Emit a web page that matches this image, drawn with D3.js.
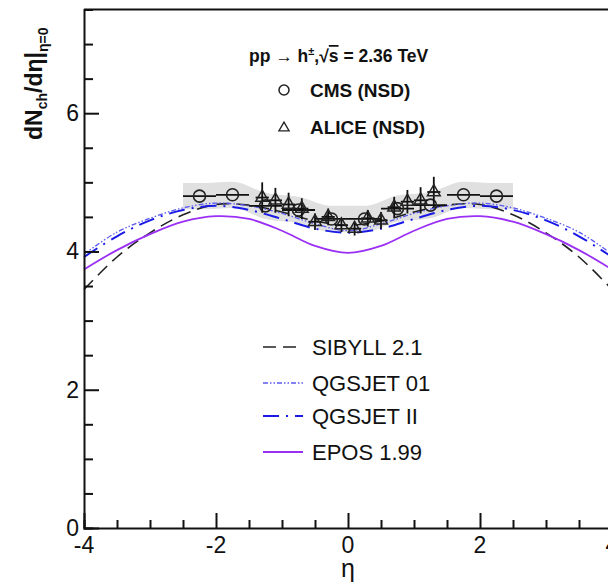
<!DOCTYPE html>
<html>
<head>
<meta charset="utf-8">
<script src="https://cdn.jsdelivr.net/npm/d3@7"></script>
<style>
  body { margin: 0; background: #fff; }
  text { font-family: "Liberation Sans Narrow", "Liberation Sans", Arial, sans-serif; }
</style>
</head>
<body>
<div id="chart"></div>
<script>
// chart size
const width = 608;
const height = 585;

// model predictions on an eta grid
const modelEta = [-4, -3.5, -3, -2.5, -2, -1.5, -1, -0.5, 0, 0.5, 1, 1.5, 2, 2.5, 3, 3.5, 4];
const sibyll = [3.45, 3.92, 4.27, 4.53, 4.68, 4.67, 4.57, 4.44, 4.38, 4.44, 4.57, 4.67, 4.68, 4.53, 4.27, 3.92, 3.45];
const qgsjet01 = [3.96, 4.28, 4.48, 4.63, 4.70, 4.66, 4.55, 4.40, 4.30, 4.40, 4.55, 4.66, 4.70, 4.63, 4.48, 4.28, 3.96];
const qgsjet2 = [3.92, 4.22, 4.45, 4.60, 4.66, 4.60, 4.47, 4.33, 4.27, 4.33, 4.47, 4.60, 4.66, 4.60, 4.45, 4.22, 3.92];
const epos = [3.74, 4.02, 4.25, 4.43, 4.51, 4.47, 4.30, 4.08, 3.98, 4.08, 4.30, 4.47, 4.51, 4.43, 4.25, 4.02, 3.74];

// CMS data (bins of 0.5)
const cmsEta = [-2.25, -1.75, -1.25, -0.75, -0.25, 0.25, 0.75, 1.25, 1.75, 2.25];
const cmsVal = [4.80, 4.82, 4.66, 4.60, 4.47, 4.47, 4.62, 4.67, 4.82, 4.80];
const cmsSys = 0.19;
const cmsHalfWidth = 0.25;

// ALICE data (bins of 0.2)
const aliceEta = [-1.3, -1.1, -0.9, -0.7, -0.5, -0.3, -0.1, 0.1, 0.3, 0.5, 0.7, 0.9, 1.1, 1.3];
const aliceVal = [4.78, 4.74, 4.68, 4.62, 4.43, 4.50, 4.38, 4.33, 4.48, 4.45, 4.64, 4.72, 4.74, 4.86];
const aliceErr = [0.22, 0.18, 0.17, 0.15, 0.12, 0.12, 0.10, 0.10, 0.12, 0.12, 0.15, 0.17, 0.19, 0.22];
const aliceHalfWidth = 0.1;

// tick values
const xMajor = [-4, -2, 0, 2, 4];
const yMajor = [0, 2, 4, 6];

const legendModels = ["SIBYLL 2.1", "QGSJET 01", "QGSJET II", "EPOS 1.99"];

const svg = d3.select("#chart").append("svg")
  .attr("width", width)
  .attr("height", height);

const x = d3.scaleLinear().domain([-4, 4]).range([84, 612]);
const y = d3.scaleLinear().domain([0, 7.5]).range([528, 9.5]);

// systematic band for CMS
const bandPts = [{ e: -2.5, v: cmsVal[0] }]
  .concat(cmsEta.map((e, i) => ({ e: e, v: cmsVal[i] })))
  .concat([{ e: 2.5, v: cmsVal[cmsVal.length - 1] }]);
svg.append("path")
  .datum(bandPts)
  .attr("fill", "#e0e0e0")
  .attr("d", d3.area()
    .x(d => x(d.e))
    .y0(d => y(d.v - cmsSys))
    .y1(d => y(d.v + cmsSys))
    .curve(d3.curveMonotoneX));

// model curves
const models = [
  { name: legendModels[0], vals: sibyll, color: "#222", width: 1.6, dash: "13,7" },
  { name: legendModels[1], vals: qgsjet01, color: "#5a5af0", width: 1.3, dash: "5,2,1.5,2,1.5,2" },
  { name: legendModels[2], vals: qgsjet2, color: "#1a1ae6", width: 2, dash: "16,7,2,7" },
  { name: legendModels[3], vals: epos, color: "#9b30f5", width: 1.8, dash: null }
];

const line = d3.line()
  .x(d => x(d[0]))
  .y(d => y(d[1]))
  .curve(d3.curveCatmullRom.alpha(0.5));

models.forEach(function(m) {
  svg.append("path")
    .datum(modelEta.map((e, i) => [e, m.vals[i]]))
    .attr("fill", "none")
    .attr("stroke", m.color)
    .attr("stroke-width", m.width)
    .attr("stroke-dasharray", m.dash)
    .attr("d", line);
});

// CMS points
const cms = svg.append("g");
cmsEta.forEach(function(e, i) {
  cms.append("line")
    .attr("x1", x(e - cmsHalfWidth)).attr("x2", x(e + cmsHalfWidth))
    .attr("y1", y(cmsVal[i])).attr("y2", y(cmsVal[i]))
    .attr("stroke", "#111").attr("stroke-width", 1.8);
  cms.append("circle")
    .attr("cx", x(e)).attr("cy", y(cmsVal[i])).attr("r", 6)
    .attr("fill", "none").attr("stroke", "#222").attr("stroke-width", 1.6);
});

// ALICE points
const tri = d3.symbol().type(d3.symbolTriangle).size(70);
const alice = svg.append("g");
aliceEta.forEach(function(e, i) {
  alice.append("line")
    .attr("x1", x(e - aliceHalfWidth)).attr("x2", x(e + aliceHalfWidth))
    .attr("y1", y(aliceVal[i])).attr("y2", y(aliceVal[i]))
    .attr("stroke", "#111").attr("stroke-width", 1.8);
  alice.append("line")
    .attr("x1", x(e)).attr("x2", x(e))
    .attr("y1", y(aliceVal[i] - aliceErr[i])).attr("y2", y(aliceVal[i] + aliceErr[i]))
    .attr("stroke", "#111").attr("stroke-width", 1.8);
  alice.append("path")
    .attr("d", tri)
    .attr("transform", `translate(${x(e)},${y(aliceVal[i])})`)
    .attr("fill", "none").attr("stroke", "#222").attr("stroke-width", 1.5);
});

// axes (ticks pointing inside)
const xAxis = d3.axisTop(x).tickValues(d3.range(-4, 4.01, 0.5)).tickFormat("").tickSizeOuter(0)
  .tickSize(8);
const gx = svg.append("g").attr("transform", "translate(0,528)").call(xAxis);
gx.selectAll(".tick line").attr("y2", d => xMajor.includes(d) ? -15 : -8);

const yAxis = d3.axisRight(y).tickValues(d3.range(0, 7.51, 0.5)).tickFormat("").tickSizeOuter(0)
  .tickSize(9);
const gy = svg.append("g").attr("transform", "translate(84,0)").call(yAxis);
gy.selectAll(".tick line").attr("x2", d => yMajor.includes(d) ? 15 : 9);

svg.selectAll(".domain").attr("stroke", "#111").attr("stroke-width", 2);
svg.selectAll(".tick line").attr("stroke", "#111").attr("stroke-width", 2);

// top frame
svg.append("line").attr("x1", x(-4)).attr("x2", x(4)).attr("y1", y(7.5)).attr("y2", y(7.5))
  .attr("stroke", "#111").attr("stroke-width", 2);

// tick labels
svg.selectAll(".xlab").data(xMajor).enter().append("text")
  .attr("x", d => x(d)).attr("y", 553)
  .attr("text-anchor", "middle").attr("font-size", 23).attr("fill", "#111")
  .text(d => d);
svg.selectAll(".ylab").data(yMajor).enter().append("text")
  .attr("x", 79).attr("y", d => y(d) + 8)
  .attr("text-anchor", "end").attr("font-size", 23).attr("fill", "#111")
  .text(d => d);

// axis titles
svg.append("text").attr("x", x(0)).attr("y", 577)
  .attr("text-anchor", "middle").attr("font-size", 25).attr("fill", "#111").text("η");

const yt = svg.append("text")
  .attr("transform", "translate(42,140) rotate(-90)")
  .attr("font-size", 23).attr("font-weight", "bold").attr("fill", "#111");
yt.append("tspan").text("dN");
yt.append("tspan").attr("font-size", 14).attr("dy", 5).text("ch");
yt.append("tspan").attr("dy", -5).text("/dη|");
yt.append("tspan").attr("font-size", 14).attr("dy", 6).text("η=0");

// header legend
const head = svg.append("text").attr("x", 249).attr("y", 62)
  .attr("font-size", 17.5).attr("font-weight", "bold").attr("fill", "#111");
head.append("tspan").text("pp → h");
head.append("tspan").attr("font-size", 11).attr("dy", -7).text("±");
head.append("tspan").attr("dy", 7).text(",√");
head.append("tspan").attr("text-decoration", "overline").text("s");
head.append("tspan").text(" = 2.36 TeV");

svg.append("circle").attr("cx", 284).attr("cy", 90).attr("r", 5)
  .attr("fill", "none").attr("stroke", "#222").attr("stroke-width", 1.5);
svg.append("text").attr("x", 310).attr("y", 97).attr("font-size", 19)
  .attr("font-weight", "bold").attr("fill", "#111").text("CMS (NSD)");
svg.append("path").attr("d", d3.symbol().type(d3.symbolTriangle).size(45))
  .attr("transform", "translate(284,128)")
  .attr("fill", "none").attr("stroke", "#222").attr("stroke-width", 1.3);
svg.append("text").attr("x", 310).attr("y", 134).attr("font-size", 19)
  .attr("font-weight", "bold").attr("fill", "#111").text("ALICE (NSD)");

// model legend
const legY = [347, 383, 416, 452];
models.forEach(function(m, i) {
  svg.append("line").attr("x1", 263).attr("x2", 303)
    .attr("y1", legY[i]).attr("y2", legY[i])
    .attr("stroke", m.color).attr("stroke-width", m.width)
    .attr("stroke-dasharray", m.dash);
  svg.append("text").attr("x", 312).attr("y", legY[i] + 8)
    .attr("font-size", 22).attr("fill", "#111").text(m.name);
});
</script>
</body>
</html>
